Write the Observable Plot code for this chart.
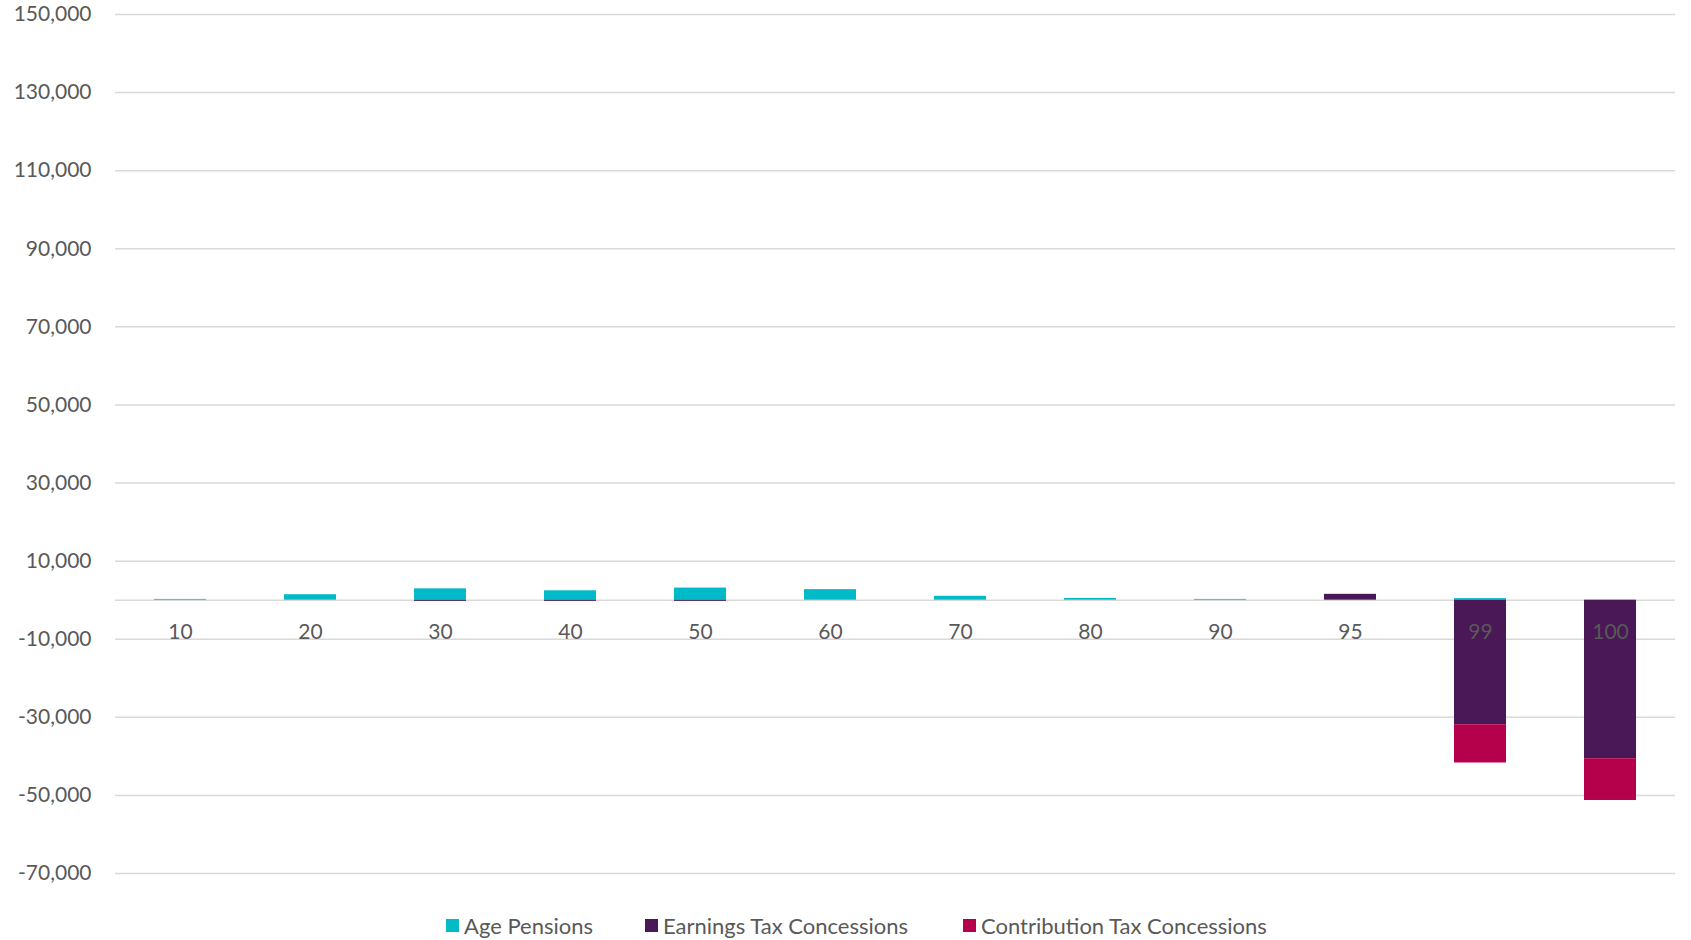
<!DOCTYPE html>
<html>
<head>
<meta charset="utf-8">
<script src="https://cdn.jsdelivr.net/npm/d3@7"></script>
<script src="https://cdn.jsdelivr.net/npm/@observablehq/plot@0.6"></script>
<style>
  html, body { margin: 0; padding: 0; background: #fff; }
  body { font-family: Lato, "Open Sans", sans-serif; color: #595959; }
  #legend { position: relative; height: 50px; width: 1691px; }
  .item { position: absolute; top: 0; height: 50px; display: flex; align-items: center; font-size: 22px; color: #595959; white-space: nowrap; }
  .sw { width: 13px; height: 13px; margin-right: 5px; display: inline-block; }
</style>
</head>
<body>
<div id="chart"></div>
<div id="legend"></div>
<script>
const categories = ["10","20","30","40","50","60","70","80","90","95","99","100"];
const agePensions = [200, 1400, 2900, 2400, 3100, 2700, 1000, 450, 200, 0, 400, 0];
const earningsTax = [0, 0, -300, -300, -300, 0, 0, 0, 0, 1500, -31900, -40600];
const contributionTax = [0, 0, 0, 0, 0, 0, 0, 0, 0, 0, -9800, -10700];
const seriesNames = ["Age Pensions", "Earnings Tax Concessions", "Contribution Tax Concessions"];
const seriesColors = ["#00BAC7", "#4A1856", "#B5004C"];
const yTicks = [-70000, -50000, -30000, -10000, 10000, 30000, 50000, 70000, 90000, 110000, 130000, 150000];

const seriesValues = [agePensions, earningsTax, contributionTax];
const data = [];
seriesNames.forEach((s, si) => {
  categories.forEach((c, ci) => {
    data.push({category: c, series: s, value: seriesValues[si][ci]});
  });
});

const fmt = d => d.toLocaleString("en-US");

const plot = Plot.plot({
  width: 1691,
  height: 900,
  marginLeft: 115,
  marginRight: 16,
  marginTop: 14,
  marginBottom: 27,
  style: {fontFamily: "Lato, 'Open Sans', sans-serif", color: "#595959", background: "#fff"},
  x: {type: "band", domain: categories, paddingInner: 0.6, paddingOuter: 0.3, axis: null},
  y: {domain: [-70000, 150000], axis: null},
  color: {domain: seriesNames, range: seriesColors},
  marks: [
    Plot.ruleY(yTicks, {stroke: "#d9d9d9", strokeWidth: 1.5}),
    Plot.ruleY([0], {stroke: "#d9d9d9", strokeWidth: 1.5}),
    Plot.barY(data, Plot.stackY({x: "category", y: "value", fill: "series", order: seriesNames})),
    Plot.axisY({ticks: yTicks, tickSize: 0, tickPadding: 24, tickFormat: fmt, fontSize: 21, label: null, fill: "#595959"}),
    Plot.text(categories, {x: d => d, y: d => 0, dy: 32, text: d => d, fontSize: 21, fill: "#595959"})
  ]
});
document.getElementById("chart").appendChild(plot);

const legend = document.getElementById("legend");
const lefts = [446, 645, 963];
seriesNames.forEach((s, i) => {
  const it = document.createElement("div");
  it.className = "item";
  it.style.left = lefts[i] + "px";
  const sw = document.createElement("span");
  sw.className = "sw";
  sw.style.background = seriesColors[i];
  it.appendChild(sw);
  it.appendChild(document.createTextNode(s));
  legend.appendChild(it);
});
</script>
</body>
</html>
